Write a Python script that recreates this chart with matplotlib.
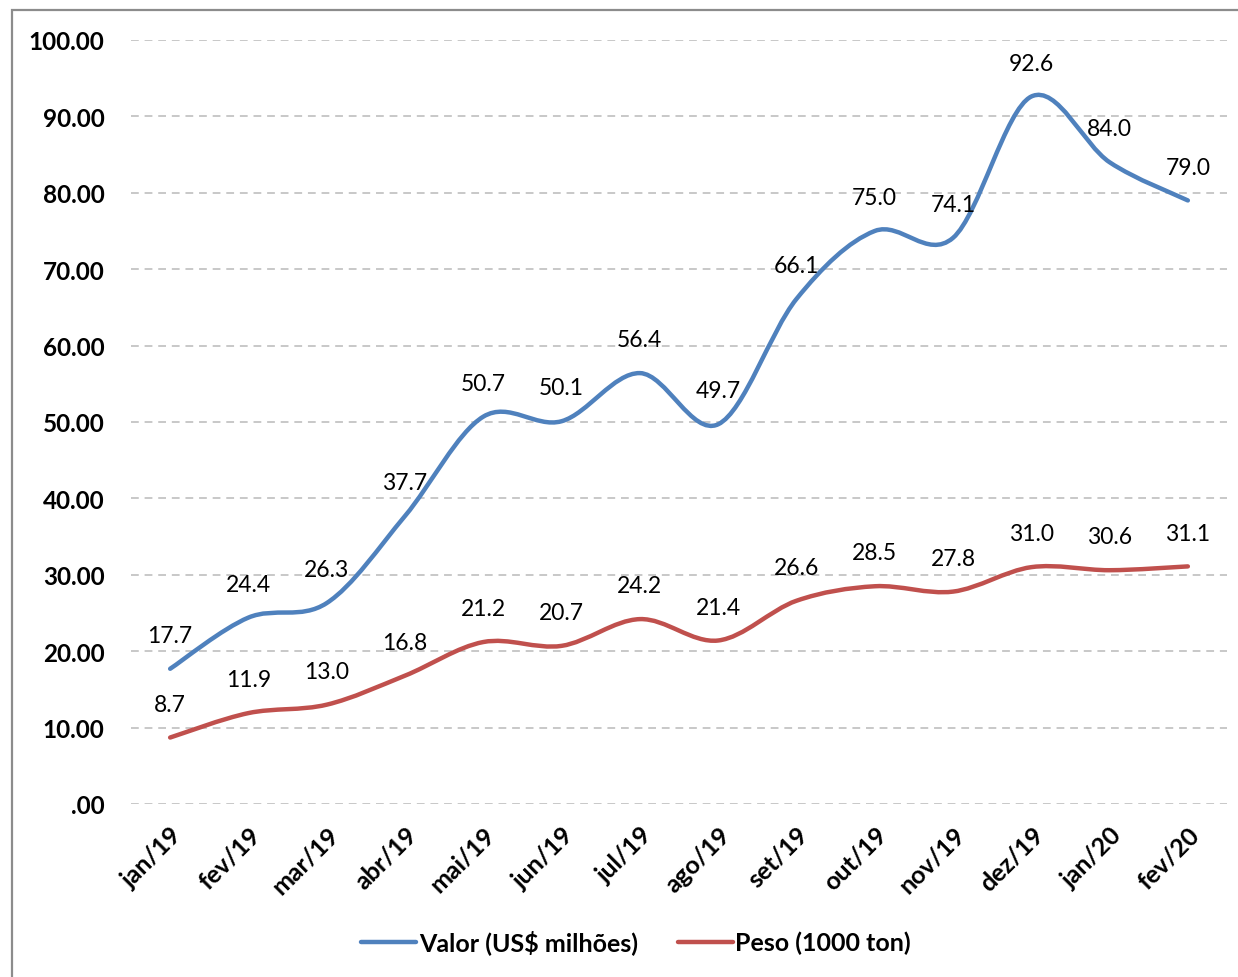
import matplotlib
matplotlib.use("Agg")
import matplotlib.pyplot as plt
from matplotlib.path import Path
from matplotlib.patches import PathPatch, Rectangle
from matplotlib.lines import Line2D
import numpy as np

categories = ["jan/19", "fev/19", "mar/19", "abr/19", "mai/19", "jun/19", "jul/19",
              "ago/19", "set/19", "out/19", "nov/19", "dez/19", "jan/20", "fev/20"]
valor = [17.7, 24.4, 26.3, 37.7, 50.7, 50.1, 56.4, 49.7, 66.1, 75.0, 74.1, 92.6, 84.0, 79.0]
peso = [8.7, 11.9, 13.0, 16.8, 21.2, 20.7, 24.2, 21.4, 26.6, 28.5, 27.8, 31.0, 30.6, 31.1]
yticks = [0, 10, 20, 30, 40, 50, 60, 70, 80, 90, 100]
ytick_labels = [".00", "10.00", "20.00", "30.00", "40.00", "50.00", "60.00",
                "70.00", "80.00", "90.00", "100.00"]

FONT = ["Lato", "DejaVu Sans"]
plt.rcParams['font.family'] = FONT

BLUE = "#4F81BD"
RED = "#C0504D"

fig = plt.figure(figsize=(12.38, 9.78), dpi=100)
ax = fig.add_axes([131/1238, 1-805/978, (1227-131)/1238, (805-41)/978])

def smooth_path(xs, ys, t=1/6):
    xs = np.asarray(xs, float); ys = np.asarray(ys, float)
    n = len(xs)
    verts = [(xs[0], ys[0])]
    codes = [Path.MOVETO]
    for i in range(n-1):
        p0 = np.array([xs[max(i-1, 0)], ys[max(i-1, 0)]])
        p1 = np.array([xs[i], ys[i]])
        p2 = np.array([xs[i+1], ys[i+1]])
        p3 = np.array([xs[min(i+2, n-1)], ys[min(i+2, n-1)]])
        c1 = p1 + (p2 - p0) * t
        c2 = p2 - (p3 - p1) * t
        verts += [tuple(c1), tuple(c2), tuple(p2)]
        codes += [Path.CURVE4]*3
    return Path(verts, codes)

x = np.arange(len(categories))
for series, color in [(valor, BLUE), (peso, RED)]:
    patch = PathPatch(smooth_path(x, series), fill=False, edgecolor=color, lw=3.2,
                      capstyle='round', joinstyle='round', zorder=3)
    ax.add_patch(patch)
    for xi, v in zip(x, series):
        ax.annotate(f"{v:.1f}", (xi, v), xytext=(0, 24), textcoords='offset points',
                    ha='center', va='center', fontsize=16.5, color='black', zorder=4)

ax.set_xlim(-0.5, len(categories)-0.5)
ax.set_ylim(0, 100)
ax.set_yticks(yticks)
ax.set_yticklabels(ytick_labels, fontsize=17.5, fontweight='bold')
ax.set_xticks(x)
ax.set_xticklabels(categories, fontsize=18, fontweight='bold', rotation=45,
                   ha='right', va='top', rotation_mode='anchor')
ax.tick_params(axis='both', length=0)
ax.tick_params(axis='y', pad=19)
ax.tick_params(axis='x', pad=13)
for s in ax.spines.values():
    s.set_visible(False)
ax.grid(axis='y', color='#C8C8C8', lw=1.4, linestyle=(0, (4, 3)))
ax.set_axisbelow(True)

handles = [Line2D([], [], color=BLUE, lw=3.2, solid_capstyle='round'),
           Line2D([], [], color=RED, lw=3.2, solid_capstyle='round')]
fig.legend(handles, ["Valor (US$ milhões)", "Peso (1000 ton)"], loc='center',
           bbox_to_anchor=(636/1238, 1-943/978), ncol=2, frameon=False,
           prop={'size': 18, 'weight': 'bold', 'family': FONT},
           handlelength=2.2, handletextpad=0.1, columnspacing=1.6)

fig.patches.append(Rectangle((12/1238, -0.05), 1.2, 1-11/978+0.05, transform=fig.transFigure,
                             fill=False, edgecolor='#8C8C8C', lw=1.6))

fig.savefig("out.png", dpi=100)
